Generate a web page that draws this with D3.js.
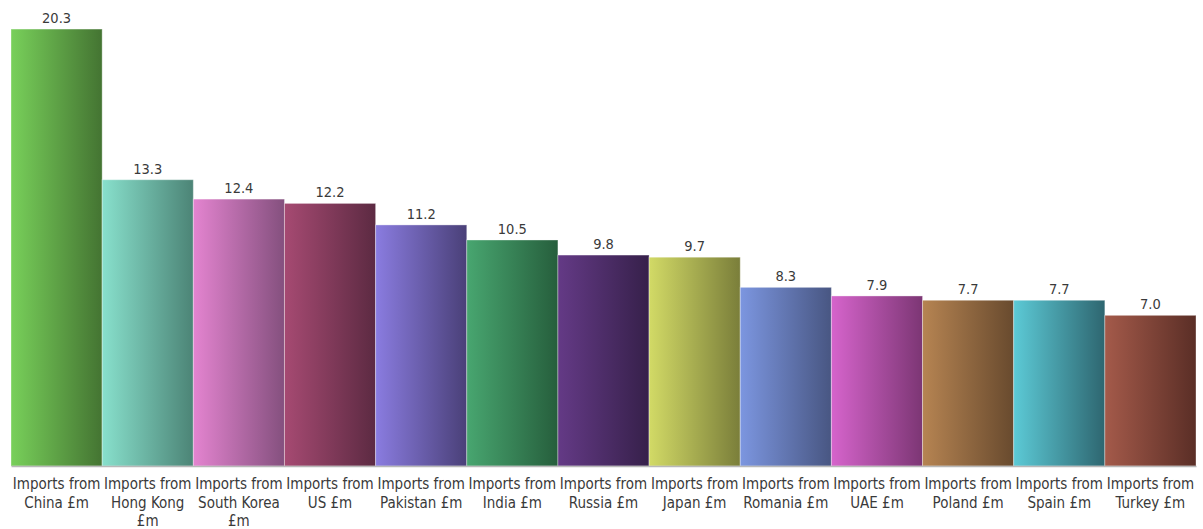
<!DOCTYPE html>
<html><head><meta charset="utf-8">
<script src="https://cdn.jsdelivr.net/npm/d3@7"></script>
<style>
html,body{margin:0;padding:0;background:#fff;}
text{font-family:"DejaVu Sans Condensed","DejaVu Sans",Tahoma,sans-serif;}
</style></head>
<body><svg id="c" width="1203" height="529"></svg>
<script>
const categories = ["Imports from China £m","Imports from Hong Kong £m","Imports from South Korea £m","Imports from US £m","Imports from Pakistan £m","Imports from India £m","Imports from Russia £m","Imports from Japan £m","Imports from Romania £m","Imports from UAE £m","Imports from Poland £m","Imports from Spain £m","Imports from Turkey £m"];
const values = [20.3,13.3,12.4,12.2,11.2,10.5,9.8,9.7,8.3,7.9,7.7,7.7,7.0];
const lightColors = ["#78d05a","#88e0cc","#e484d0","#a64a72","#8a7ce0","#48a670","#643a86","#d2da66","#7c96e0","#d664cc","#b68452","#5ccad6","#a45a4a"];
const darkColors  = ["#447432","#4c8476","#84507e","#5c2a42","#4a4078","#265e3c","#36204a","#7a7e3a","#485682","#7c3674","#684a2e","#2e6670","#5a2e26"];

const svg = d3.select("#c");
const left = 11, right = 1196, baseY = 466;
const x = d3.scaleBand().domain(categories).range([left, right]).padding(0);
const y = d3.scaleLinear().domain([0, 21.65]).range([baseY, 0]);

const defs = svg.append("defs");
categories.forEach((c,i)=>{
  const g = defs.append("linearGradient").attr("id","g"+i).attr("x1","0%").attr("x2","100%").attr("y1","0%").attr("y2","0%");
  g.append("stop").attr("offset","0%").attr("stop-color",lightColors[i]);
  g.append("stop").attr("offset","100%").attr("stop-color",darkColors[i]);
});

svg.append("g").selectAll("rect").data(values).join("rect")
  .attr("x",(d,i)=>x(categories[i]))
  .attr("y",d=>y(d))
  .attr("width",x.bandwidth())
  .attr("height",d=>baseY-y(d))
  .attr("fill",(d,i)=>`url(#g${i})`)
  .attr("stroke","rgba(255,255,255,0.35)")
  .attr("stroke-width",1);

svg.append("g").selectAll("text").data(values).join("text")
  .attr("x",(d,i)=>x(categories[i])+x.bandwidth()/2)
  .attr("y",d=>y(d)-6)
  .attr("text-anchor","middle")
  .attr("font-size",14.5)
  .attr("fill","#3a3a3a")
  .text(d=>d.toFixed(1));

// axis
const axis = d3.axisBottom(x).tickSize(0).tickPadding(0);
const ax = svg.append("g").attr("transform",`translate(0,${baseY})`).call(axis);
ax.select(".domain").attr("stroke","#b8b8b8").attr("stroke-width",1.5);
ax.selectAll(".tick text").attr("font-size",15).attr("fill","#3a3a3a").attr("font-family",null)
  .each(function(d){
    const t = d3.select(this);
    const words = d.split(" ");
    t.text(null);
    const maxW = x.bandwidth();
    let lines = [], cur = [];
    const tmp = t.append("tspan");
    words.forEach(w=>{
      const test = cur.concat([w]).join(" ");
      tmp.text(test);
      if (cur.length && (tmp.node().getComputedTextLength() > maxW || (cur.length >= 2 && cur[1]==="from"))){ lines.push(cur.join(" ")); cur=[w]; }
      else cur.push(w);
    });
    lines.push(cur.join(" "));
    tmp.remove();
    t.attr("y",null).attr("dy",null);
    lines.forEach((l,k)=>{
      t.append("tspan").attr("x",0).attr("y",23 + k*18.5).text(l);
    });
  });
</script></body></html>
